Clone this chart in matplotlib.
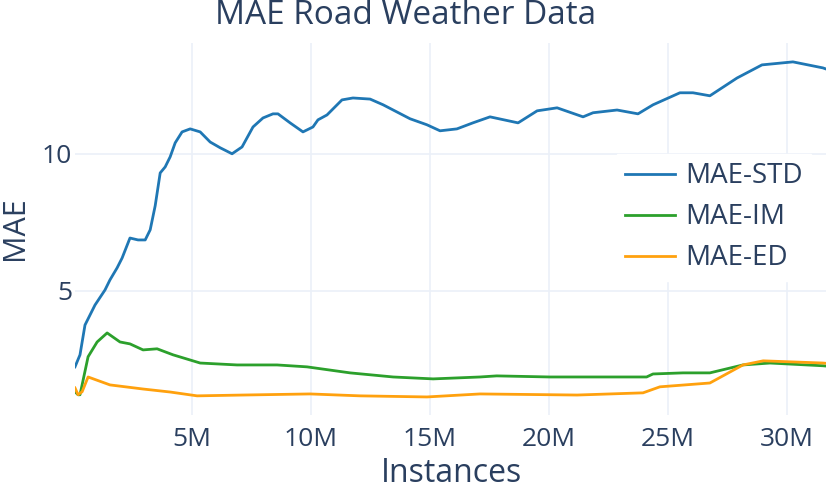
import matplotlib
matplotlib.use("Agg")
import matplotlib.pyplot as plt

# values, x in millions of instances
std_x = [0.08, 0.29, 0.5, 0.92, 1.34, 1.55, 1.85, 2.06, 2.39, 2.73, 3.03, 3.24, 3.45,
         3.66, 3.87, 4.08, 4.29, 4.58, 4.92, 5.34, 5.76, 6.18, 6.68, 7.1, 7.56, 7.98,
         8.4, 8.61, 9.12, 9.66, 10.08, 10.29, 10.67, 11.3, 11.76, 12.48, 13.03, 14.16,
         14.87, 15.42, 16.13, 16.8, 17.52, 18.7, 19.5, 20.34, 21.43, 21.85, 22.86,
         23.74, 24.37, 25.5, 26.05, 26.76, 27.9, 28.95, 30.25, 31.51, 31.64]
std_y = [2.21, 2.65, 3.74, 4.47, 5.02, 5.39, 5.83, 6.19, 6.92, 6.85, 6.85, 7.22, 8.1,
         9.3, 9.52, 9.89, 10.4, 10.8, 10.91, 10.8, 10.43, 10.22, 10.0, 10.25, 10.98, 11.31,
         11.46, 11.46, 11.13, 10.8, 10.98, 11.24, 11.42, 11.97, 12.04, 12.0, 11.79, 11.28,
         11.06, 10.84, 10.91, 11.13, 11.35, 11.13, 11.57, 11.68, 11.35, 11.5, 11.6,
         11.46, 11.79, 12.23, 12.23, 12.12, 12.77, 13.25, 13.36, 13.14, 13.1]

im_x = [0.08, 0.21, 0.29, 0.63, 1.01, 1.43, 1.97, 2.39, 2.94, 3.53, 4.2, 5.34, 6.89,
        8.57, 9.83, 11.64, 13.45, 15.13, 17.1, 17.8, 20.04, 21.85, 24.1, 24.37, 25.63,
        26.76, 28.15, 29.29, 31.51, 31.64]
im_y = [1.3, 1.19, 1.19, 2.58, 3.12, 3.45, 3.12, 3.05, 2.83, 2.87, 2.65, 2.35, 2.28,
        2.28, 2.21, 1.99, 1.84, 1.77, 1.84, 1.88, 1.84, 1.84, 1.84, 1.95, 1.99,
        1.99, 2.28, 2.35, 2.25, 2.24]

ed_x = [0.08, 0.21, 0.38, 0.63, 1.55, 2.94, 4.08, 5.21, 7.14, 9.96, 12.06, 14.87,
        17.1, 21.18, 23.95, 24.66, 26.76, 28.15, 29.0, 31.51, 31.64]
ed_y = [1.44, 1.19, 1.3, 1.84, 1.55, 1.4, 1.29, 1.15, 1.18, 1.22, 1.15, 1.11,
        1.22, 1.18, 1.26, 1.48, 1.62, 2.28, 2.43, 2.35, 2.34]

x_ticks = [5, 10, 15, 20, 25, 30]
x_labels = ["5M", "10M", "15M", "20M", "25M", "30M"]
y_ticks = [5, 10]

txt = "#2a3f5f"
plt.rcParams["font.family"] = ["Open Sans", "DejaVu Sans"]

W, H = 826, 492
fig = plt.figure(figsize=(W / 100, H / 100), dpi=100)
ax = fig.add_axes([75 / W, 1 - 415 / H, 1 - 75 / W, (415 - 43) / H])

ax.plot(std_x, std_y, color="#1f77b4", lw=2.0, label="MAE-STD")
ax.plot(im_x, im_y, color="#2ca02c", lw=2.0, label="MAE-IM")
ax.plot(ed_x, ed_y, color="#ffa10e", lw=2.0, label="MAE-ED")

ax.set_xlim(0.08, 31.64)
ax.set_ylim(0.45, 14.05)
ax.set_xticks(x_ticks)
ax.set_xticklabels(x_labels)
ax.set_yticks(y_ticks)
ax.grid(True, color="#ebf0f8", lw=1.2)
ax.set_axisbelow(True)
for s in ax.spines.values():
    s.set_visible(False)
ax.tick_params(length=0, labelsize=19, labelcolor=txt)
ax.tick_params(axis="x", pad=9)
ax.tick_params(axis="y", pad=2)

leg = ax.legend(loc="upper left", bbox_to_anchor=(617 / W, 1 - 154 / H),
                bbox_transform=fig.transFigure, fontsize=20, frameon=True,
                facecolor="white", edgecolor="white", framealpha=1, fancybox=False,
                borderaxespad=0, handlelength=1.8, handletextpad=0.36,
                borderpad=0.3, labelspacing=0.47)
for t in leg.get_texts():
    t.set_color(txt)

fig.text(406 / W, 1 - 16 / H, "MAE Road Weather Data", ha="center", va="center",
         fontsize=24, color=txt)
fig.text(15 / W, 1 - 228 / H, "MAE", ha="center", va="center", rotation=90,
         fontsize=22, color=txt)
fig.text(451 / W, 1 - 473 / H, "Instances", ha="center", va="center",
         fontsize=23, color=txt)

fig.savefig("out.png", dpi=100)
